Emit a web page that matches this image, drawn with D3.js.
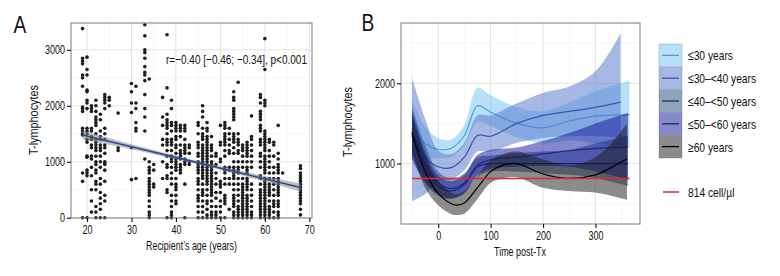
<!DOCTYPE html>
<html lang="en">
<head>
<meta charset="UTF-8" />
<title>T-lymphocytes by age</title>
<script src="https://cdn.jsdelivr.net/npm/d3@7/dist/d3.min.js"></script>
<style>
  body { margin: 0; background: #fff; }
  svg { display: block; font-family: "Liberation Sans", Arial, sans-serif; }
</style>
</head>
<body>
<div id="chart"></div>
<script>
// ---- Panel A: scatter, one column of values per age ----
const ageColumns = [19, 20, 21, 22, 23, 24, 25, 27, 30, 31, 33, 34, 35, 37, 38, 39, 40, 41, 42, 43,
  45, 46, 47, 48, 49, 50, 51, 52, 53, 54, 55, 56, 57, 59, 60, 61, 62, 63, 64, 68];
const tcellByAge = [
  [3380, 2850, 2800, 2750, 2550, 2500, 2350, 1980, 1950, 1900, 1600, 1550, 1500, 1480, 800, 650, 0],
  [2870, 2650, 2550, 2280, 2250, 2100, 2050, 1950, 1600, 1550, 1500, 1400, 1350, 1100, 1080, 850, 800, 750, 0],
  [2000, 1950, 1900, 1600, 1550, 1450, 1400, 1300, 1250, 1100, 1050, 900, 750, 500, 300, 100],
  [2100, 2000, 1900, 1800, 1750, 1700, 1650, 1500, 1400, 1350, 1300, 1250, 1200, 1100, 1000, 950, 850, 800, 650, 600, 500, 200, 100, 0],
  [1850, 1750, 1550, 1450, 1400, 1300, 1250, 1200, 1100, 1000, 900, 700, 600, 450, 350, 250, 150, 0],
  [2200, 2150, 2100, 2050, 1950, 1600, 1500, 1400, 1300, 1250, 1150, 1000, 980, 950, 850, 650, 400, 300, 0],
  [2150, 2100, 2000],
  [1870, 1250, 1200],
  [2400, 2250, 2050, 1880, 1250, 680],
  [2350, 2050, 1950, 1700, 1600, 1550, 700],
  [3450, 3250, 3000, 2950, 2850, 2700, 2600, 2550, 2450, 2200, 1950, 1800, 1550, 1050],
  [2480, 1000, 900, 850, 800, 700, 650, 600, 550, 500, 450, 400, 300, 200, 100, 50, 0],
  [950, 850, 600, 550],
  [2150, 1800, 1650, 1400, 1300, 1000, 700],
  [3270, 2320, 1850, 1750, 1700, 1650, 1600, 1500, 1400, 1350, 1300, 1200, 1100, 950, 900, 750, 700, 500, 450, 0],
  [2100, 1950, 1700, 1650, 1550, 1400, 1350, 1300, 1200, 1100, 1050, 1000, 900, 800, 700, 600, 400, 300, 200, 100, 50, 0],
  [1700, 1650, 1600, 1550, 1450, 1400, 1300, 1250, 1150, 1050, 1000, 950, 900, 850, 700, 600, 550, 500, 400, 300, 250],
  [1650, 1600, 1550, 1450, 1300, 1200, 1150, 1100, 1050, 950, 900, 850, 800],
  [1650, 1600, 1550, 1400, 1300, 1250, 1200, 1150, 1050, 1000, 950, 600, 0],
  [1300, 1250, 1150, 1000, 950],
  [1700, 1650, 1500, 1350, 1300, 1250, 1150, 1100, 1000, 950, 900, 850, 800, 700, 650, 600, 500, 400, 350, 300, 200, 100, 0],
  [2000, 1900, 1800, 1600, 1500, 1450, 1400, 1300, 1250, 1200, 1150, 1100, 1050, 1000, 950, 900, 850, 800, 750, 700, 600, 500, 450, 400, 300, 200, 100, 0],
  [1700, 1600, 1550, 1450, 1400, 1350, 1300, 1250, 1200, 1150, 1100, 1050, 1000, 950, 900, 850, 800, 750, 700, 650, 600, 500, 400, 300, 250, 150, 50, 0],
  [1450, 1300, 1250, 1200, 1100, 1000, 950, 900, 850, 800, 750, 700, 650, 600, 550, 500, 450, 400, 300, 200, 100, 50, 0],
  [1150, 1100, 950, 800, 700, 600, 450, 350, 200, 100, 50, 0],
  [1650, 1350, 1300, 1050, 1000, 650, 600, 550, 450, 300, 200, 100, 0],
  [1700, 1650, 1600, 1500, 1450, 1400, 1350, 1300, 1200, 1100, 900, 850, 800, 700, 600, 400, 350, 300, 250, 0],
  [1600, 1500, 1400, 1300, 1200, 1150, 900, 850, 700, 600, 150],
  [2250, 2150, 2100, 1950, 1900, 1850, 1800, 1750, 1500, 1450, 1400, 1350, 1250, 1150, 1000, 900, 850, 800, 750, 700, 600, 500, 400, 350, 300, 250, 200, 100, 50, 0],
  [2420, 1500, 1400, 1350, 1300, 1200, 1150, 1000, 900, 850, 800, 700, 600, 500, 400, 300, 200, 150, 100, 50, 0],
  [1300, 1250, 1200, 1100, 1000, 900, 700, 600, 550, 500, 450, 400, 350, 300, 250, 200, 150, 100, 50, 0],
  [1350, 1300, 1250, 1200, 1150, 1100, 1000, 900, 850, 800, 700, 650, 600, 550, 500, 400, 350, 300, 250, 200, 150, 100, 50, 0],
  [1820, 1450, 1400, 1300, 1200, 1100, 1000, 900, 600, 500, 400, 300, 200, 100, 50, 0],
  [2200, 2150, 2050, 1900, 1850, 1800, 1750, 1650, 1600, 1550, 1400, 1350, 1300, 1150, 1100, 1000, 900, 750, 700, 600, 500, 450, 400, 350, 300, 250, 200, 150, 100, 50, 0],
  [3200, 2650, 2100, 2050, 2000, 1550, 1500, 1450, 1400, 1350, 1300, 1250, 1200, 1100, 1050, 1000, 950, 900, 850, 800, 700, 650, 600, 550, 500, 450, 400, 350, 300, 250, 200, 150, 100, 50, 0],
  [1400, 1350, 1200, 1100, 1000, 900, 800, 700, 600, 550, 500, 450, 400, 300, 200, 150, 100, 50, 0],
  [1350, 1300, 1100, 900, 800, 700, 600, 500, 400, 300, 250, 200, 100, 0],
  [1650, 1150, 1050, 950, 900, 850, 800, 700, 650, 600, 550, 500, 450, 400, 300, 250, 200, 100, 50, 0],
  [800],
  [930, 880, 800, 750, 700, 650, 600, 550, 500, 450, 400, 350, 300, 250, 150, 50]
];
// linear fit with confidence band
const fitAge = [19, 30, 43, 55, 68];
const fitMean = [1480, 1270, 1020, 790, 540];
const fitLo = [1400, 1225, 990, 750, 470];
const fitHi = [1560, 1315, 1050, 830, 610];
const ageTicks = [20, 30, 40, 50, 60, 70];
const tcellTicksA = [0, 1000, 2000, 3000];

// ---- Panel B: smoothed trajectories by age group ----
const groupNames = ["\u226430 years", "\u226430\u2013<40 years", "\u226440\u2013<50 years", "\u226450\u2013<60 years", "\u226560 years"];
const time30 = [-50, -25, 0, 25, 50, 75, 100, 150, 200, 250, 300, 365];
const mean30 = [1440, 1250, 1175, 1190, 1350, 1720, 1640, 1500, 1445, 1530, 1590, 1607];
const lo30 = [1100, 1050, 1070, 1080, 1230, 1520, 1470, 1330, 1250, 1290, 1250, 1200];
const hi30 = [1800, 1460, 1320, 1300, 1480, 1940, 1850, 1700, 1650, 1760, 1900, 2030];

const time30_40 = [-50, -25, 0, 25, 50, 75, 100, 150, 200, 250, 300, 348];
const mean30_40 = [1390, 1080, 960, 950, 1080, 1350, 1340, 1500, 1600, 1650, 1700, 1765];
const lo30_40 = [530, 620, 780, 800, 920, 1150, 1150, 1260, 1320, 1340, 1340, 1320];
const hi30_40 = [2070, 1560, 1160, 1120, 1260, 1600, 1600, 1750, 1880, 1960, 2150, 2620];

const time40_50 = [-50, -25, 0, 25, 50, 75, 100, 150, 200, 250, 300, 362];
const mean40_50 = [1400, 1000, 760, 690, 760, 960, 1000, 1000, 1000, 1000, 1000, 1000];
const lo40_50 = [1100, 780, 620, 570, 640, 840, 900, 900, 880, 860, 820, 720];
const hi40_50 = [1700, 1230, 900, 810, 880, 1080, 1100, 1130, 1150, 1170, 1250, 1350];

const time50_60 = [-50, -25, 0, 25, 50, 75, 100, 150, 200, 250, 300, 362];
const mean50_60 = [1350, 950, 720, 660, 740, 980, 1050, 1080, 1120, 1160, 1190, 1205];
const lo50_60 = [1050, 760, 600, 560, 630, 860, 940, 960, 970, 960, 900, 800];
const hi50_60 = [1650, 1150, 850, 780, 860, 1110, 1170, 1200, 1280, 1380, 1500, 1630];

const time60 = [-50, -25, 0, 25, 35, 50, 75, 100, 125, 150, 200, 250, 300, 330, 360];
const mean60 = [1372, 900, 630, 500, 484, 510, 700, 900, 980, 1000, 870, 815, 860, 950, 1060];
const lo60 = [1150, 700, 480, 370, 360, 380, 560, 760, 820, 830, 700, 660, 640, 600, 550];
const hi60 = [1600, 1100, 780, 640, 620, 660, 850, 1040, 1120, 1150, 1050, 980, 1080, 1250, 1500];

const threshold = 814;
const thresholdLabel = "814 cell/\u00b5l";
const timeTicks = [0, 100, 200, 300];
const tcellTicksB = [1000, 2000];

const groups = [
  { name: groupNames[0], t: time30, m: mean30, lo: lo30, hi: hi30, fill: "#6fbfef", line: "#4a9ad8" },
  { name: groupNames[1], t: time30_40, m: mean30_40, lo: lo30_40, hi: hi30_40, fill: "#5171c9", line: "#3556b0" },
  { name: groupNames[2], t: time40_50, m: mean40_50, lo: lo40_50, hi: hi40_50, fill: "#1f477b", line: "#1b2f55" },
  { name: groupNames[3], t: time50_60, m: mean50_60, lo: lo50_60, hi: hi50_60, fill: "#10109a", line: "#1e2878" },
  { name: groupNames[4], t: time60, m: mean60, lo: lo60, hi: hi60, fill: "#1a1a1a", line: "#000000" }
];

const W = 780, H = 276;
const svg = d3.select("#chart").append("svg").attr("width", W).attr("height", H);
svg.append("rect").attr("width", W).attr("height", H).attr("fill", "#fff");

// the original uses a condensed face; squeeze glyphs horizontally
function squeeze(sel, f) {
  sel.each(function () {
    const w = this.getComputedTextLength();
    d3.select(this).attr("textLength", w * f).attr("lengthAdjust", "spacingAndGlyphs");
  });
}
function fitText(sel, w) {
  sel.attr("textLength", w).attr("lengthAdjust", "spacingAndGlyphs");
}

function grid(g, x, y, vMajor, vMinor, hMajor, hMinor) {
  const [x0, x1] = x.range(), [y0, y1] = y.range();
  g.selectAll(null).data(vMinor).enter().append("line")
    .attr("x1", x).attr("x2", x).attr("y1", y0).attr("y2", y1).attr("stroke", "#f2f2f2").attr("stroke-width", 0.6);
  g.selectAll(null).data(hMinor).enter().append("line")
    .attr("y1", y).attr("y2", y).attr("x1", x0).attr("x2", x1).attr("stroke", "#f2f2f2").attr("stroke-width", 0.6);
  g.selectAll(null).data(vMajor).enter().append("line")
    .attr("x1", x).attr("x2", x).attr("y1", y0).attr("y2", y1).attr("stroke", "#e3e3e3").attr("stroke-width", 1);
  g.selectAll(null).data(hMajor).enter().append("line")
    .attr("y1", y).attr("y2", y).attr("x1", x0).attr("x2", x1).attr("stroke", "#e3e3e3").attr("stroke-width", 1);
}
function frame(g, x, y) {
  const [x0, x1] = x.range(), [y0, y1] = y.range();
  g.append("rect").attr("x", x0).attr("y", y1).attr("width", x1 - x0).attr("height", y0 - y1)
    .attr("fill", "none").attr("stroke", "#7a7a7a").attr("stroke-width", 1);
}
function axes(g, x, y, xt, yt) {
  const xa = g.append("g").attr("transform", `translate(0,${y.range()[0]})`)
    .call(d3.axisBottom(x).tickValues(xt).tickSize(4).tickPadding(3));
  const ya = g.append("g").attr("transform", `translate(${x.range()[0]},0)`)
    .call(d3.axisLeft(y).tickValues(yt).tickSize(4).tickPadding(2).tickFormat(d3.format("d")));
  [xa, ya].forEach(a => {
    a.select(".domain").remove();
    a.selectAll("line").attr("stroke", "#111").attr("stroke-width", 1.1);
    a.selectAll("text").attr("font-size", 12.5).attr("fill", "#111").attr("font-family", null);
    squeeze(a.selectAll("text"), 0.72);
  });
}

// ---------- Panel A ----------
const xA = d3.scaleLinear().domain([16.4, 70.6]).range([71, 312]);
const yA = d3.scaleLinear().domain([-5, 3480]).range([218, 23]);
const gA = svg.append("g");
grid(gA, xA, yA, ageTicks, [25, 35, 45, 55, 65], tcellTicksA, [500, 1500, 2500]);

const pts = [];
ageColumns.forEach((a, i) => tcellByAge[i].forEach(v => pts.push([a, v])));
gA.append("g").selectAll("circle").data(pts).enter().append("circle")
  .attr("cx", d => xA(d[0])).attr("cy", d => yA(d[1])).attr("r", 1.8).attr("fill", "#1c1c1c");

const fit = fitAge.map((a, i) => ({ a, m: fitMean[i], lo: fitLo[i], hi: fitHi[i] }));
gA.append("path").datum(fit).attr("fill", "#8c8c8c").attr("fill-opacity", 0.55)
  .attr("d", d3.area().x(d => xA(d.a)).y0(d => yA(d.lo)).y1(d => yA(d.hi)).curve(d3.curveMonotoneX));
gA.append("path").datum(fit).attr("fill", "none").attr("stroke", "#2a4a92").attr("stroke-width", 1.6)
  .attr("d", d3.line().x(d => xA(d.a)).y(d => yA(d.m)));
frame(gA, xA, yA);
axes(gA, xA, yA, ageTicks, tcellTicksA);

gA.append("text").attr("x", 307).attr("y", 64).attr("text-anchor", "end").attr("font-size", 13.5)
  .attr("fill", "#111").text("r=\u22120.40 [\u22120.46; \u22120.34], p<0.001").call(fitText, 141);
gA.append("text").attr("x", 191.5).attr("y", 249.5).attr("text-anchor", "middle").attr("font-size", 13.5)
  .attr("fill", "#111").text("Recipient\u2019s age (years)").call(fitText, 91);
gA.append("text").attr("transform", "translate(38,120) rotate(-90)").attr("text-anchor", "middle")
  .attr("font-size", 13.5).attr("fill", "#111").text("T-lymphocytes").call(fitText, 70);
gA.append("text").attr("x", 20).attr("y", 33).attr("text-anchor", "middle").attr("font-size", 24)
  .attr("fill", "#111").text("A").call(squeeze, 0.8);

// ---------- Panel B ----------
const xB = d3.scaleLinear().domain([-71, 385]).range([401, 640]);
const yB = d3.scaleLinear().domain([248, 2750]).range([224, 23]);
const gB = svg.append("g");
grid(gB, xB, yB, timeTicks, [-50, 50, 150, 250, 350], tcellTicksB, [500, 1500, 2500]);

const area = d3.area().x(d => xB(d.t)).y0(d => yB(d.lo)).y1(d => yB(d.hi)).curve(d3.curveCatmullRom);
const line = d3.line().x(d => xB(d.t)).y(d => yB(d.m)).curve(d3.curveCatmullRom);
groups.forEach(gr => {
  const rows = gr.t.map((t, i) => ({ t, m: gr.m[i], lo: gr.lo[i], hi: gr.hi[i] }));
  gB.append("path").datum(rows).attr("fill", gr.fill).attr("fill-opacity", 0.5).attr("d", area);
  gB.append("path").datum(rows).attr("fill", "none").attr("stroke", gr.line).attr("stroke-width", 1.2).attr("d", line);
});
gB.append("line").attr("x1", xB(-50)).attr("x2", xB(365)).attr("y1", yB(threshold)).attr("y2", yB(threshold))
  .attr("stroke", "#e0282c").attr("stroke-width", 1.6);
frame(gB, xB, yB);
axes(gB, xB, yB, timeTicks, tcellTicksB);

gB.append("text").attr("x", 520).attr("y", 256).attr("text-anchor", "middle").attr("font-size", 13.5)
  .attr("fill", "#111").text("Time post-Tx").call(fitText, 52);
gB.append("text").attr("transform", "translate(352,122) rotate(-90)").attr("text-anchor", "middle")
  .attr("font-size", 13.5).attr("fill", "#111").text("T-lymphocytes").call(fitText, 70);
gB.append("text").attr("x", 368).attr("y", 31).attr("text-anchor", "middle").attr("font-size", 24)
  .attr("fill", "#111").text("B").call(squeeze, 0.8);

// legend
const keyH = 22.8, keyTop = 44, keyX = 659, keyW = 23;
const lg = svg.append("g");
groups.forEach((gr, i) => {
  const y = keyTop + i * keyH;
  lg.append("rect").attr("x", keyX).attr("y", y).attr("width", keyW).attr("height", keyH)
    .attr("fill", "#fff").attr("stroke", "#c8c8c8").attr("stroke-width", 0.8);
  lg.append("rect").attr("x", keyX).attr("y", y).attr("width", keyW).attr("height", keyH)
    .attr("fill", gr.fill).attr("fill-opacity", 0.5);
  lg.append("line").attr("x1", keyX + 3).attr("x2", keyX + keyW - 3).attr("y1", y + keyH / 2).attr("y2", y + keyH / 2)
    .attr("stroke", gr.line).attr("stroke-width", 1.3);
  lg.append("text").attr("x", 688).attr("y", y + keyH / 2 + 5).attr("font-size", 13.5).attr("fill", "#111")
    .text(gr.name).call(squeeze, 0.76);
});
lg.append("line").attr("x1", 663).attr("x2", 679).attr("y1", 192).attr("y2", 192).attr("stroke", "#e0282c").attr("stroke-width", 1.5);
lg.append("text").attr("x", 688).attr("y", 197).attr("font-size", 13.5).attr("fill", "#111")
  .text(thresholdLabel).call(squeeze, 0.76);
</script>
</body>
</html>
